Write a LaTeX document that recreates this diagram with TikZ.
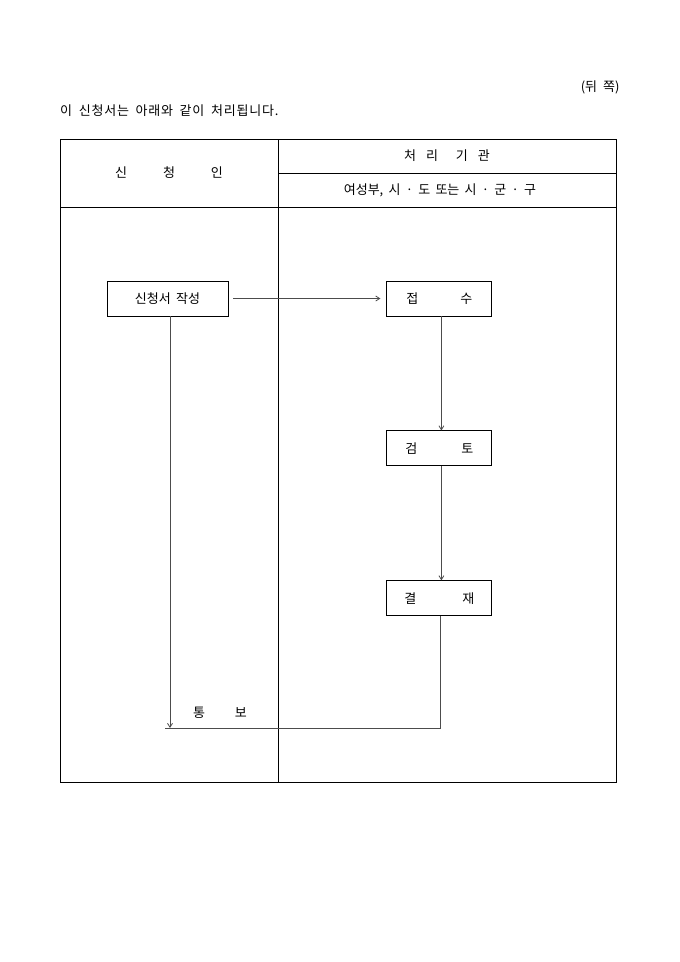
\documentclass[tikz,border=0pt]{standalone}
\usepackage{fontspec}
\setmainfont[WordSpace=1.8]{Noto Sans CJK KR}
\usetikzlibrary{positioning, arrows.meta}

\begin{document}
\begin{tikzpicture}[x=1pt,y=-1pt,node distance=114pt,>={Straight Barb[length=4pt,width=5pt]},
  font=\fontsize{13}{15}\selectfont]
\tikzstyle{frame}=[line width=1pt,draw=black]
\tikzstyle{proc}=[rectangle,line width=0.9pt,draw=black,minimum width=121pt,minimum height=35pt,inner sep=0pt]
\tikzstyle{flow}=[line width=0.8pt,draw=black!70]
\useasboundingbox (0,0) rectangle (680,962);
% page header
\node [anchor=east] (side) at (623,87) {(뒤\hspace{6pt}쪽)};
\node [anchor=west,inner sep=0pt] (intro) at (60,111) {\addfontfeature{LetterSpace=6}이 신청서는 아래와 같이 처리됩니다.};
% table
\draw [frame] (60,139) rectangle (616,782);
\draw [frame] (278,139) -- (278,782);
\draw [frame] (278,173) -- (616,173);
\draw [frame] (60,207) -- (616,207);
\node (applicant) at (169,173) {신\hspace{36pt}청\hspace{36pt}인};
\node (office) at (447,156) {처\hspace{10pt}리\hspace{18pt}기\hspace{10pt}관};
\node (offices) at (440,190) {여성부, 시 · 도 또는 시 · 군 · 구};
% steps
\node [proc] (write) at (167.5,298.5) {신청서 작성};
\node [proc,minimum width=105pt] (receive) [right=158pt of write] {접\hspace{42pt}수};
\node [proc,minimum width=105pt] (review) [below=114pt of receive] {검\hspace{44pt}토};
\node [proc,minimum width=105pt] (approve) [below=114pt of review] {결\hspace{46pt}재};
\coordinate (notice) at (170,728);
\coordinate (notice end) at (165,728);
\node (noticetext) at (220,713) {통\hspace{30pt}보};
\draw [flow,->] ([xshift=5pt]write.east) -- ([xshift=-6pt]receive.west);
\draw [flow,->] ([xshift=2pt]receive.south) -- ([xshift=2pt]review.north);
\draw [flow,->] ([xshift=2pt]review.south) -- ([xshift=2pt]approve.north);
\draw [flow,->] (write.south -| notice) -- (notice);
\draw [flow] ([xshift=1pt]approve.south) |- (notice end);
\end{tikzpicture}
\end{document}
